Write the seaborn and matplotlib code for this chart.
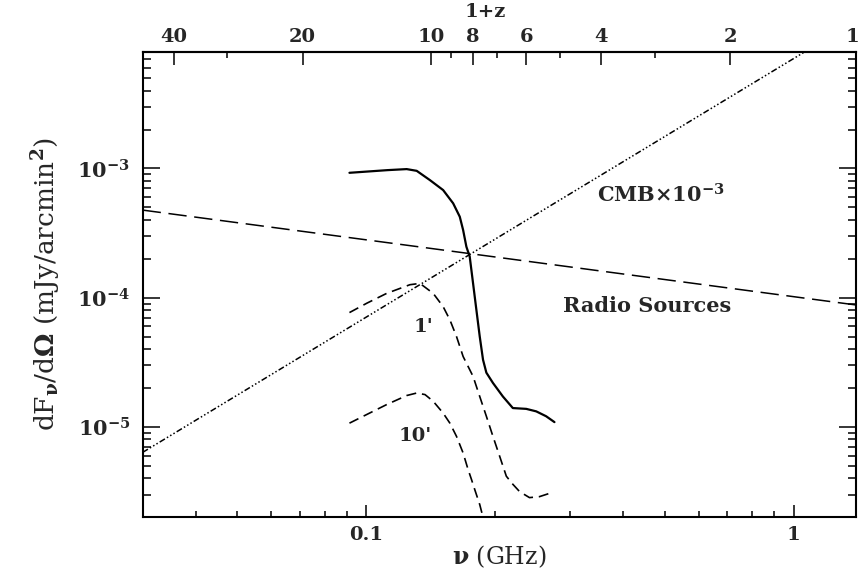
import numpy as np
import seaborn as sns
import matplotlib.pyplot as plt
from matplotlib import ticker

sns.set_style("ticks")
plt.rcParams['font.family'] = ['DejaVu Serif']
plt.rcParams['font.weight'] = 'bold'
plt.rcParams['mathtext.fontset'] = 'dejavuserif'
plt.rcParams['mathtext.default'] = 'bf'

# frequency in GHz, flux in mJy/arcmin^2
nu_solid = [0.0914, 0.1122, 0.1244, 0.1313, 0.1410, 0.1514, 0.1598, 0.1656, 0.1686,
            0.1716, 0.1747, 0.1779, 0.1811, 0.1844, 0.1877, 0.1911, 0.1980, 0.2089,
            0.2204, 0.2369, 0.2500, 0.2637, 0.2758]
f_solid = [9.25e-4, 9.70e-4, 9.88e-4, 9.58e-4, 8.12e-4, 6.80e-4, 5.37e-4, 4.23e-4, 3.34e-4,
           2.48e-4, 2.08e-4, 1.29e-4, 8.05e-5, 5.01e-5, 3.31e-5, 2.63e-5, 2.19e-5, 1.72e-5,
           1.40e-5, 1.38e-5, 1.32e-5, 1.21e-5, 1.09e-5]

nu_1arc = [0.0914, 0.1004, 0.1117, 0.1266, 0.1336, 0.1435, 0.1514, 0.1570, 0.1627,
           0.1686, 0.1779, 0.1844, 0.1911, 0.1980, 0.2053, 0.2128, 0.2196, 0.2286,
           0.2411, 0.2544, 0.2715]
f_1arc = [7.67e-5, 9.07e-5, 1.08e-4, 1.26e-4, 1.29e-4, 1.08e-4, 8.53e-5, 6.74e-5, 5.01e-5,
          3.51e-5, 2.46e-5, 1.72e-5, 1.21e-5, 8.46e-6, 5.93e-6, 4.16e-6, 3.65e-6, 3.16e-6,
          2.84e-6, 2.89e-6, 3.10e-6]

nu_10arc = [0.0914, 0.1004, 0.1117, 0.1244, 0.1313, 0.1373, 0.1435, 0.1514, 0.1570,
            0.1627, 0.1686, 0.1732, 0.1764, 0.1795, 0.1844, 0.1883]
f_10arc = [1.07e-5, 1.25e-5, 1.49e-5, 1.75e-5, 1.83e-5, 1.78e-5, 1.58e-5, 1.28e-5, 1.07e-5,
           8.46e-6, 6.29e-6, 4.68e-6, 3.92e-6, 3.28e-6, 2.51e-6, 1.92e-6]

nu_cmb = [0.03, 1.42]
f_cmb = [6.36e-6, 1.426e-2]

nu_radio = [0.03, 1.42]
f_radio = [4.76e-4, 8.73e-5]

# 1+z axis on top (21cm line at 1.4204 GHz)
top_ticks = [40, 20, 10, 8, 6, 4, 2, 1.0146]
top_labels = ["40", "20", "10", "8", "6", "4", "2", ""]
top_minor = [30, 9, 7, 5, 3]

fig = plt.figure(figsize=(8.59, 5.73), dpi=100)
ax = fig.add_axes([0.1661, 0.0972, 0.9965 - 0.1661, 0.9098 - 0.0972])

sns.lineplot(x=nu_solid, y=f_solid, ax=ax, color="black", lw=1.6, estimator=None, sort=False)
sns.lineplot(x=nu_1arc, y=f_1arc, ax=ax, color="black", lw=1.2, estimator=None, sort=False,
             linestyle=(0, (6, 3.5)))
sns.lineplot(x=nu_10arc, y=f_10arc, ax=ax, color="black", lw=1.2, estimator=None, sort=False,
             linestyle=(0, (6, 3.5)))
sns.lineplot(x=nu_radio, y=f_radio, ax=ax, color="black", lw=1.1, estimator=None, sort=False,
             linestyle=(0, (12, 5)))
sns.lineplot(x=nu_cmb, y=f_cmb, ax=ax, color="black", lw=1.1, estimator=None, sort=False,
             linestyle=(0, (4, 1.5, 1, 1.5, 1, 1.5, 1, 1.5)))

ax.set_xscale("log")
ax.set_yscale("log")
ax.set_xlim(0.03, 1.4)
ax.set_ylim(2e-6, 8e-3)

ax.xaxis.set_major_locator(ticker.FixedLocator([0.1, 1]))
ax.xaxis.set_major_formatter(ticker.FixedFormatter(["0.1", "1"]))
ax.xaxis.set_minor_locator(ticker.LogLocator(subs=np.arange(2, 10)))
ax.xaxis.set_minor_formatter(ticker.NullFormatter())
ax.yaxis.set_major_locator(ticker.LogLocator(numticks=10))
ax.yaxis.set_major_formatter(ticker.LogFormatterMathtext())
ax.yaxis.set_minor_locator(ticker.LogLocator(subs=np.arange(2, 10), numticks=20))
ax.yaxis.set_minor_formatter(ticker.NullFormatter())

ax.tick_params(axis="x", which="major", direction="in", length=9, width=1.3, labelsize=14, pad=6,
               top=False, bottom=True)
ax.tick_params(axis="x", which="minor", direction="in", length=4.5, width=1.3, top=False)
ax.tick_params(axis="y", which="major", direction="in", length=12, width=1.3, labelsize=15, pad=9,
               left=True, right=True)
ax.tick_params(axis="y", which="minor", direction="in", length=6, width=1.3, left=True, right=True)
for sp in ax.spines.values():
    sp.set_linewidth(1.5)
    sp.set_color("black")

sec = ax.secondary_xaxis("top", functions=(lambda n: 1.4204 / n, lambda z: 1.4204 / z))
sec.set_xticks(top_ticks, labels=top_labels)
sec.xaxis.set_minor_locator(ticker.FixedLocator(top_minor))
sec.xaxis.set_minor_formatter(ticker.NullFormatter())
sec.tick_params(which="major", direction="in", length=9, width=1.3, labelsize=14, pad=4)
sec.tick_params(which="minor", direction="in", length=4.5, width=1.3)
sec.spines["top"].set_linewidth(1.5)
# the last "1" sits on the right edge
fig.text(852 / 859, 1 - 37 / 573, "1", ha="center", va="center", fontsize=14)

ax.set_xlabel(r"$\nu$ (GHz)", fontsize=17, labelpad=0)
ax.set_ylabel(r"dF$_\nu$/d$\Omega$ (mJy/arcmin$^2$)", fontsize=19, labelpad=10)
fig.text(485 / 859, 1 - 12 / 573, "1+z", ha="center", va="center", fontsize=14)

ax.text((597 - 142.7) / 713.3, (517.3 - 195) / 465.6, r"CMB$\times$10$^{-3}$",
        transform=ax.transAxes, ha="left", va="center", fontsize=15)
ax.text((563 - 142.7) / 713.3, (517.3 - 306) / 465.6, "Radio Sources",
        transform=ax.transAxes, ha="left", va="center", fontsize=15)
ax.text((423 - 142.7) / 713.3, (517.3 - 327) / 465.6, "1'",
        transform=ax.transAxes, ha="center", va="center", fontsize=14)
ax.text((415 - 142.7) / 713.3, (517.3 - 436) / 465.6, "10'",
        transform=ax.transAxes, ha="center", va="center", fontsize=14)

fig.savefig("out.png", dpi=100)
